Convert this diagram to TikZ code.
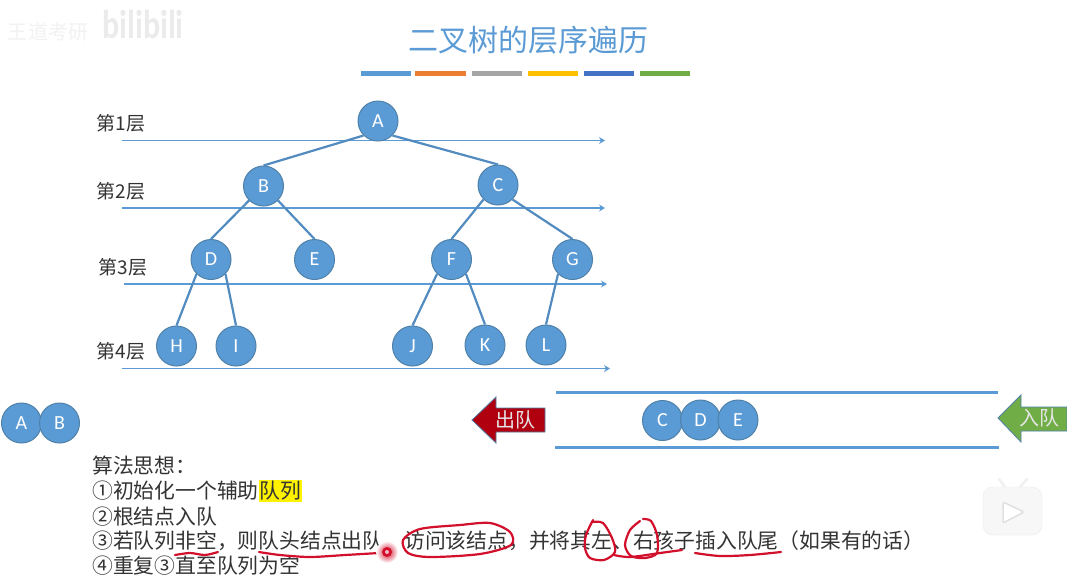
\documentclass[tikz,border=0pt]{standalone}
\usepackage{xcolor}
\usepackage{fontspec}
\setmainfont{Carlito}
\newfontfamily\cjk{Noto Sans CJK SC}
\usepackage{tikz}
\usetikzlibrary{positioning, arrows.meta}
\definecolor{treeBlue}{HTML}{5B9BD5}
\definecolor{treeEdge}{HTML}{4F81A8}
\definecolor{inkGray}{HTML}{333333}
\definecolor{penRed}{HTML}{D3102C}
\definecolor{outRed}{HTML}{B00010}
\definecolor{inGreen}{HTML}{70AD47}
\definecolor{barOrange}{HTML}{ED7D31}
\definecolor{barGray}{HTML}{A5A5A5}
\definecolor{barYellow}{HTML}{FFC000}
\definecolor{barBlue}{HTML}{4472C4}
\setlength{\fboxsep}{1pt}

\begin{document}
\begin{tikzpicture}[
  x=1pt, y=-1pt,
  treenode/.style={
    circle, minimum size=40pt, inner sep=0pt,
    draw=treeEdge, line width=1pt, fill=treeBlue,
    text=white, font=\fontsize{20}{20}\selectfont
  },
  treeedge/.style={treeBlue!90!black, line width=2.2pt},
  levelline/.style={treeBlue, line width=1.2pt, -{Stealth[length=6pt,width=7pt]}},
  levellabel/.style={font=\cjk\fontsize{19}{19}\selectfont, text=inkGray},
  queueline/.style={treeBlue, line width=3pt},
  colorbar/.style={line width=5pt},
  steptext/.style={anchor=west, inner sep=0pt, font=\cjk\fontsize{20.8}{21}\selectfont, text=inkGray},
  arrowlabel/.style={font=\cjk\fontsize{20}{20}\selectfont, text=white!90!black, inner sep=0pt},
  penline/.style={penRed, line width=2.2pt, line cap=round, line join=round},
]
\useasboundingbox[fill=white] (0,0) rectangle (1067,582);

% === WATERMARK ===
\node[font=\cjk\fontsize{20}{20}\selectfont, text=black!5, inner sep=0pt] (markname) at (48,32) {王道考研};
\node[font=\bfseries\fontsize{31}{31}\selectfont, text=black!8, inner sep=0pt] (marklogo) at (143,25) {\scalebox{1.03}[1.3]{bilibili}};

% === TITLE ===
\node[font=\cjk\fontsize{30}{30}\selectfont, text=treeBlue, inner sep=0pt] (title) at (528,40) {二叉树的层序遍历};
\draw[colorbar, draw=treeBlue] (361,73) -- (411,73);
\draw[colorbar, draw=barOrange] (415,73) -- (466,73);
\draw[colorbar, draw=barGray] (472,73) -- (522,73);
\draw[colorbar, draw=barYellow] (528,73) -- (578,73);
\draw[colorbar, draw=barBlue] (584,73) -- (634,73);
\draw[colorbar, draw=inGreen] (640,73) -- (690,73);

% === LEVELS ===
\coordinate (l1a) at (122,140.5); \coordinate (l1b) at (605,140.5);
\coordinate (l2a) at (122,208); \coordinate (l2b) at (605,208);
\coordinate (l3a) at (124,284); \coordinate (l3b) at (607,284);
\coordinate (l4a) at (122,368.5); \coordinate (l4b) at (610,368.5);
\draw[levelline] (l1a) -- (l1b);
\draw[levelline] (l2a) -- (l2b);
\draw[levelline] (l3a) -- (l3b);
\draw[levelline] (l4a) -- (l4b);
\node[levellabel] (lab1) at (121,123) {第1层};
\node[levellabel] (lab2) at (121,191) {第2层};
\node[levellabel] (lab3) at (123,267) {第3层};
\node[levellabel] (lab4) at (121,351) {第4层};

% === TREE ===
\node[treenode] (A) at (378,121) {A};
\node[treenode] (B) at (263.5,186) {B};
\node[treenode] (C) at (498,185) {C};
\node[treenode] (D) at (211,259.5) {D};
\node[treenode] (E) at (314.5,259.5) {E};
\node[treenode] (F) at (451.5,259.5) {F};
\node[treenode] (G) at (572.5,259.5) {G};
\node[treenode] (H) at (176.5,346) {H};
\node[treenode] (I) at (236,346) {I};
\node[treenode] (J) at (412.5,346) {J};
\node[treenode] (K) at (485,345) {K};
\node[treenode] (L) at (546,345) {L};
\draw[treeedge] (A.south west) -- (B.north);
\draw[treeedge] (A.south east) -- (C.north);
\draw[treeedge] (B.south west) -- (D.north);
\draw[treeedge] (B.south east) -- (E.north);
\draw[treeedge] (C.south west) -- (F.north);
\draw[treeedge] (C.south east) -- (G.north);
\draw[treeedge] (D.south west) -- (H.north);
\draw[treeedge] (D.south east) -- (I.north);
\draw[treeedge] (F.south west) -- (J.north);
\draw[treeedge] (F.south east) -- (K.north);
\draw[treeedge] (G.south west) -- (L.north);

% === QUEUE ===
\coordinate (q1a) at (556,392); \coordinate (q1b) at (998,392);
\coordinate (q2a) at (555,447); \coordinate (q2b) at (999,447);
\draw[queueline] (q1a) -- (q1b);
\draw[queueline] (q2a) -- (q2b);
\node[treenode] (qC) at (662.5,420.5) {C};
\node[treenode] (qD) at (700.5,420) {D};
\node[treenode] (qE) at (738,420) {E};
\node[treenode] (doneA) at (21.5,423) {A};
\node[treenode] (doneB) at (59.5,423) {B};

% === ARROWS ===
\draw[draw=treeEdge, fill=outRed, line width=0.8pt]
  (472,420) -- (496,397) -- (496,408) -- (545,408) -- (545,432) -- (496,432) -- (496,443) -- cycle;
\node[arrowlabel] (outlab) at (515,420) {出队};
\draw[draw=treeEdge, fill=inGreen, line width=0.8pt]
  (998,418) -- (1021,395) -- (1021,407) -- (1067,407) -- (1067,431) -- (1021,431) -- (1021,442) -- cycle;
\node[arrowlabel] (inlab) at (1039,418) {入队};

% === ALGORITHM ===
\node[steptext] (s0) at (92,466) {算法思想：};
\node[steptext] (s1) at (92,491) {①初始化一个辅助\colorbox{yellow}{队列}};
\node[steptext] (s2) at (92,517) {②根结点入队};
\node[steptext] (s3) at (92,541) {③若队列非空，则队头结点出队，访问该结点，并将其左、右孩子插入队尾（如果有的话）};
\node[steptext] (s4) at (92,566) {④重复③直至队列为空};

% === PEN MARKS ===
\draw[penline] plot[smooth] coordinates {(175,555) (190,553) (205,555) (218,552)};
\draw[penline] plot[smooth] coordinates {(259,552) (280,555) (310,557) (345,555) (379,553)};
\draw[penline] plot[smooth cycle] coordinates {(403,540) (420,529) (460,525) (490,523) (510,532) (511,545) (480,554) (430,557) (408,553)};
\draw[penline] plot[smooth] coordinates {(592,522) (603,523) (612,538) (615,552) (604,560) (590,558) (585,548) (586,535) (593,520)};
\draw[penline] plot[smooth] coordinates {(640,521) (630,530) (625,545) (631,556) (645,558) (657,553) (657,535) (651,521) (643,519)};
\draw[penline] plot[smooth] coordinates {(614,555) (630,557) (660,553) (682,550)};
\draw[penline] plot[smooth] coordinates {(695,553) (720,556) (750,555) (781,552)};
\shade[inner color=penRed, outer color=white, draw=none] (387,552) circle[radius=11];
\fill[penRed] (387,552) circle[radius=5];
\fill[white!70!penRed] (387,552) circle[radius=2];

% === PLAYER ICON ===
\draw[black!6, line width=2.5pt, line cap=round] (1005,487) -- (999,479);
\draw[black!6, line width=2.5pt, line cap=round] (1020,487) -- (1027,479);
\draw[fill=black!3, draw=black!8, rounded corners=10pt] (983,487) rectangle (1042,535);
\draw[fill=white, draw=black!12, line width=1.5pt, rounded corners=2pt] (1003,502) -- (1024,512) -- (1003,523) -- cycle;
\end{tikzpicture}
\end{document}
